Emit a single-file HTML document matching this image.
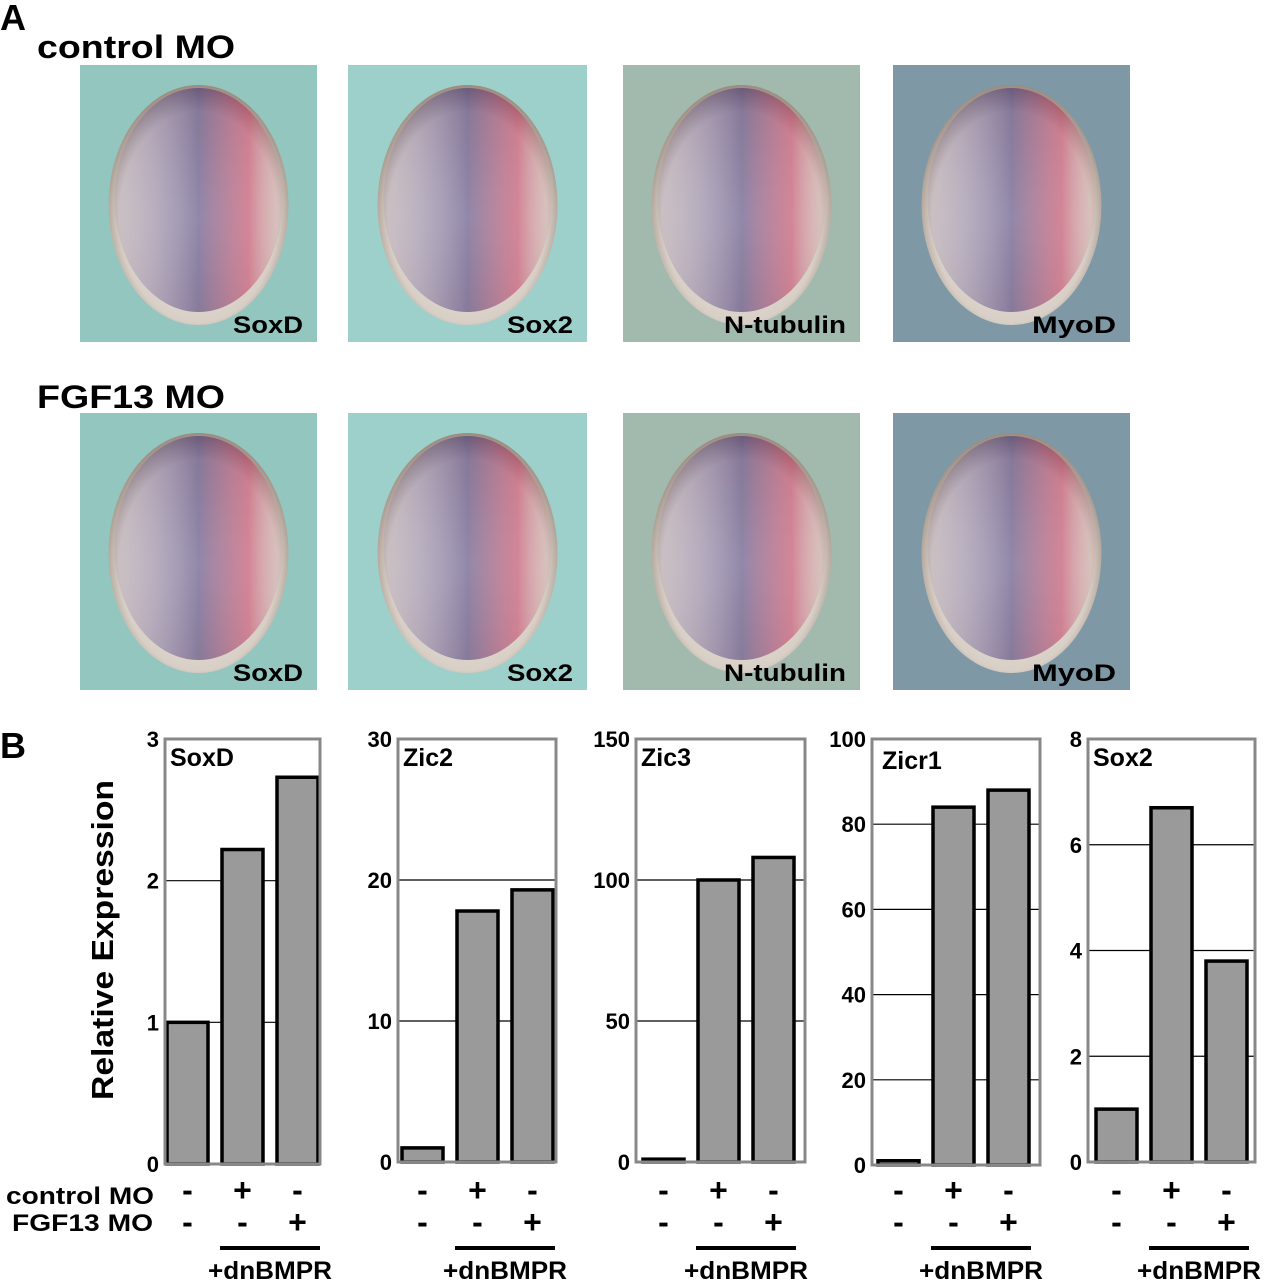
<!DOCTYPE html>
<html><head><meta charset="utf-8"><style>
body{margin:0;background:#fff;width:1267px;height:1280px;overflow:hidden;font-family:"Liberation Sans",sans-serif}
svg text{font-family:"Liberation Sans",sans-serif;font-weight:bold}
</style></head><body>
<svg id="fig" width="1267" height="1280">
<defs>
<radialGradient id="egg" cx="50%" cy="55%" r="55%"><stop offset="0" stop-color="#f2efe8"/><stop offset="0.8" stop-color="#d8cfc6"/><stop offset="1" stop-color="#9a8a80"/></radialGradient>
<linearGradient id="pur" x1="0" x2="1"><stop offset="0" stop-color="#6a5aa8" stop-opacity="0.15"/><stop offset="0.5" stop-color="#3a2a70" stop-opacity="0.75"/><stop offset="0.8" stop-color="#c02050" stop-opacity="0.65"/><stop offset="1" stop-color="#d08090" stop-opacity="0.15"/></linearGradient>
<linearGradient id="fade" x1="0" y1="0" x2="0" y2="1"><stop offset="0" stop-color="#fff" stop-opacity="1"/><stop offset="0.6" stop-color="#fff" stop-opacity="0.8"/><stop offset="1" stop-color="#fff" stop-opacity="0"/></linearGradient>
<mask id="m"><rect x="0" y="0" width="1" height="1" fill="url(#fade)"/></mask>
</defs>
<text x="0" y="30" font-size="36">A</text>
<text x="37" y="58" font-size="32" textLength="198" lengthAdjust="spacingAndGlyphs">control MO</text>
<text x="37" y="408" font-size="32" textLength="188" lengthAdjust="spacingAndGlyphs">FGF13 MO</text>
<g id="photos"></g>
<text x="0" y="758" font-size="36">B</text>
<text transform="translate(113,940) rotate(-90)" text-anchor="middle" font-size="31" textLength="320" lengthAdjust="spacingAndGlyphs">Relative Expression</text>
<text x="6" y="1204" font-size="24" textLength="148" lengthAdjust="spacingAndGlyphs">control MO</text>
<text x="12" y="1231" font-size="24" textLength="141" lengthAdjust="spacingAndGlyphs">FGF13 MO</text>
<g id="charts"></g>
</svg>
<script>
const NS="http://www.w3.org/2000/svg";
function mk(t,a,p){const e=document.createElementNS(NS,t);for(const k in a)e.setAttribute(k,a[k]);p.appendChild(e);return e;}
const photoLabels=["SoxD","Sox2","N-tubulin","MyoD"];
const photoLabW=[70,66,122,84];
const photoX=[80,348,623,893], photoW=[237,239,237,237];
const photoBg=["#93c6bf","#9dd0ca","#a2b9ae","#7e98a6"];
const rowsY=[65,413];
const pg=document.getElementById('photos');
rowsY.forEach((y,r)=>{photoLabels.forEach((lab,i)=>{
  const g=mk('g',{},pg);
  
  
  mk('rect',{x:photoX[i],y:y,width:photoW[i],height:277,fill:photoBg[i]},g);
  const cx=photoX[i]+photoW[i]/2, cy=y+140;
  mk('ellipse',{cx:cx,cy:cy,rx:90,ry:120,fill:'url(#egg)'},g);
  mk('ellipse',{cx:cx,cy:cy-5,rx:84,ry:112,fill:'url(#pur)',opacity:0.7},g);
  const t=mk('text',{x:photoX[i]+photoW[i]-14,y:y+268,'font-size':24,'text-anchor':'end',fill:'#000',textLength:photoLabW[i],lengthAdjust:'spacingAndGlyphs'},g);
  t.textContent=lab;
});});
const genes=["SoxD","Zic2","Zic3","Zicr1","Sox2"];
const maxY=[3,30,150,100,8];
const tickStep=[1,10,50,20,2];
const vals0=[1,1,1,1,1];
const valsCtrl=[2.22,17.8,100,84,6.7];
const valsFgf=[2.73,19.3,108,88,3.8];
const ctrlSigns=["-","+","-"];
const fgfSigns=["-","-","+"];
const frameL=[165,398,636,872,1088], frameR=[320,556,805,1040,1255], frameB=[1164,1162,1162,1165,1162];
const firstBar=[167,402,643,878,1096];
const frameT=739, bw=41, step=55;
const cg=document.getElementById('charts');
genes.forEach((gname,c)=>{
  const g=mk('g',{},cg);
  
  
  const y=v=>frameB[c]-(v/maxY[c])*(frameB[c]-frameT);
  for(let t=tickStep[c];t<maxY[c];t+=tickStep[c]){
    const l=mk('line',{x1:frameL[c],x2:frameR[c],y1:y(t),y2:y(t),stroke:'#000','stroke-width':1.2},g);
    
    
  }
  for(let t=0;t<=maxY[c];t+=tickStep[c]){
    const tx=mk('text',{x:frameL[c]-6,y:y(t)+8,'font-size':22,'text-anchor':'end'},g);
    
    
    tx.textContent=t;
  }
  const vs=[vals0[c],valsCtrl[c],valsFgf[c]];
  vs.forEach((v,i)=>{
    const x=firstBar[c]+i*step;
    const b=mk('rect',{x:x,y:y(v),width:bw,height:frameB[c]-y(v),fill:'#9a9a9a',stroke:'#000','stroke-width':3.5},g);
    
    
    const cx=x+bw/2;
    const s1=mk('text',{x:cx,y:1201,'font-size':32,'text-anchor':'middle'},g);s1.textContent=ctrlSigns[i];
    
    
    const s2=mk('text',{x:cx,y:1233,'font-size':32,'text-anchor':'middle'},g);s2.textContent=fgfSigns[i];
    
    
  });
  const fr=mk('rect',{x:frameL[c],y:frameT,width:frameR[c]-frameL[c],height:frameB[c]-frameT,fill:'none',stroke:'#888','stroke-width':3},g);
  
  
  const ti=mk('text',{x:frameL[c]+(c===3?10:5),y:frameT+(c===3?30:27),'font-size':25},g);
  
  
  ti.textContent=gname;
  const x1=firstBar[c]+step-2, x2=firstBar[c]+2*step+bw+2;
  const ln=mk('line',{x1:x1,x2:x2,y1:1248,y2:1248,stroke:'#000','stroke-width':4},g);
  
  
  const dt=mk('text',{x:(x1+x2)/2,y:1279,'font-size':25,'text-anchor':'middle',textLength:124,lengthAdjust:'spacingAndGlyphs'},g);
  
  
  dt.textContent='+dnBMPR';
});
</script>
</body></html>
